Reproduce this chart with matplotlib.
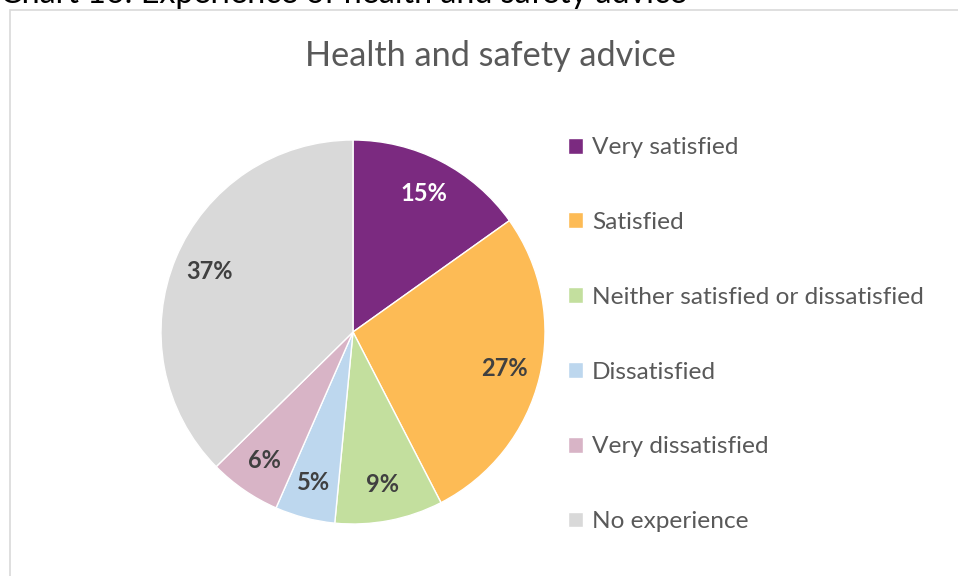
import matplotlib.pyplot as plt
from matplotlib.patches import Rectangle

categories = ["Very satisfied", "Satisfied", "Neither satisfied or dissatisfied",
              "Dissatisfied", "Very dissatisfied", "No experience"]
values = [15, 27, 9, 5, 6, 37]
colors = ["#7B2A80", "#FDBB55", "#C3DF9E", "#BDD7EE", "#D8B4C6", "#D9D9D9"]
label_colors = ["white", "#404040", "#404040", "#404040", "#404040", "#404040"]

plt.rcParams['font.family'] = ['Lato', 'DejaVu Sans']

W, H = 958, 576
fig = plt.figure(figsize=(W / 100, H / 100), dpi=100)

# heading above the chart box, mostly clipped at the top edge
fig.text(0.0, 1 - 3 / H, "Chart 16: Experience of health and safety advice",
         fontsize=23.2, color="black", va="baseline", ha="left")

# chart area border
fig.patches.append(Rectangle((10 / W, -0.1), 1.2, 1 - 10 / H + 0.1,
                             transform=fig.transFigure, fill=False,
                             edgecolor="#D9D9D9", linewidth=1.2))

fig.text(490 / W, 1 - 56 / H, "Health and safety advice", fontsize=24.7,
         color="#595959", ha="center", va="center")

cx, cy, r = 353, 332, 192
ax = fig.add_axes([(cx - r) / W, (H - cy - r) / H, 2 * r / W, 2 * r / H])
wedges, texts, autotexts = ax.pie(
    values, colors=colors, startangle=90, counterclock=False,
    autopct=lambda p: f"{p:.0f}%", pctdistance=0.81,
    wedgeprops=dict(edgecolor="white", linewidth=1),
    textprops=dict(fontsize=17, fontweight="bold"))
for t, c, v in zip(autotexts, label_colors, values):
    t.set_text(f"{v}%")
    t.set_color(c)
ax.set_xlim(-1, 1)
ax.set_ylim(-1, 1)
ax.set_aspect("equal")
ax.axis("off")

leg = fig.legend(wedges, categories, loc="upper left",
                 bbox_to_anchor=(556 / W, 1 - 125 / H), frameon=False,
                 fontsize=17.6, handlelength=0.62, handleheight=0.62,
                 handletextpad=0.35, labelspacing=2.2, borderpad=0,
                 labelcolor="#595959")

fig.savefig("out.png", dpi=100)
